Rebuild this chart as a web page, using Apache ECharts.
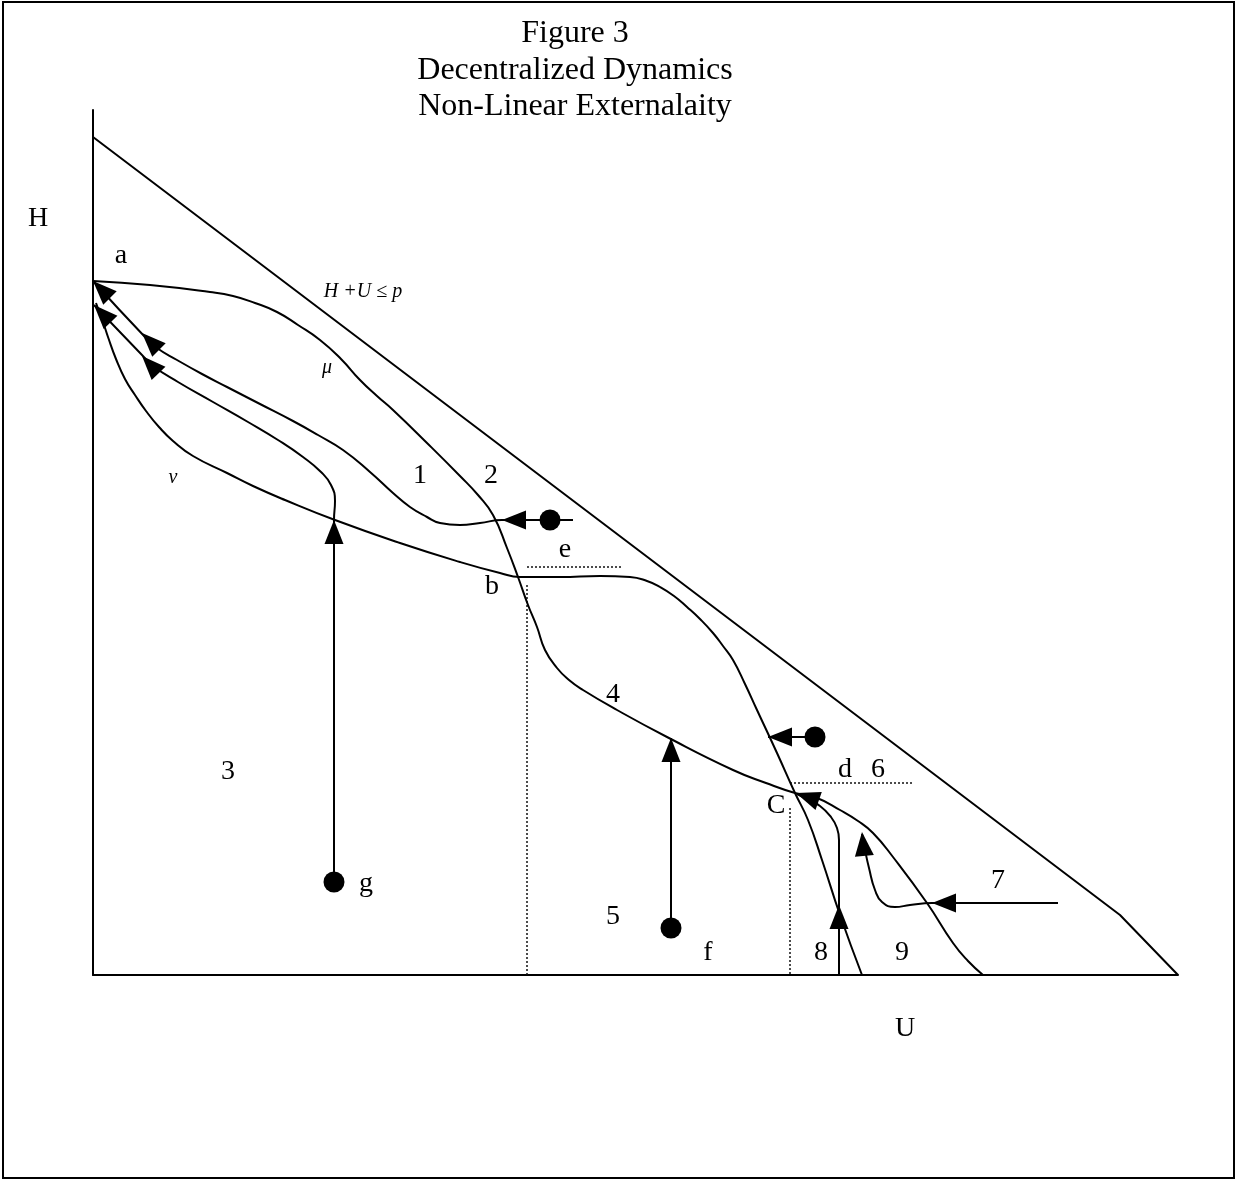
<!DOCTYPE html>
<html>
<head>
<meta charset="utf-8">
<script src="https://cdn.jsdelivr.net/npm/echarts@6/dist/echarts.min.js"></script>
<style>
html,body{margin:0;padding:0;background:#fff;}
#chart{width:1239px;height:1180px;}
</style>
</head>
<body>
<div id="chart"></div>
<script>
// Coordinates are (U, H) in the diagram's own units.

// Budget frontier H + U <= p
const frontier = [[0,83.8],[102.7,6.0],[108.5,0]];

// mu locus: from a, through b and C, down to the U axis
const muCurve = [
  [0,69.4],[5.7,69.0],[11.7,68.3],[14.0,67.9],[16.2,67.2],[18.4,66.3],[20.5,65.0],
  [22.7,63.5],[24.8,61.6],[26.7,59.5],[28.4,57.9],[30.0,56.5],[33.4,53.2],[36.7,49.9],
  [38.5,48.0],[40.0,46.0],[41.4,42.7],[42.5,39.8],[43.5,37.0],[44.4,34.8],[45.2,32.5],
  [46.4,30.7],[47.6,29.5],[49.0,28.5],[52.4,26.5],[57.4,23.8],[64.0,20.5],[67.3,19.2],
  [70.2,18.2],[72.4,17.7],[74.7,16.5],[76.5,15.4],[78.0,14.2],[80.0,11.8],[83.4,7.2],
  [86.0,3.2],[87.5,1.4],[89.0,0]
];

// nu locus
const nuCurve = [
  [0.3,67.2],[1.0,65.3],[1.5,63.8],[2.3,61.6],[3.2,59.6],[4.2,58.0],[5.3,56.4],
  [6.6,54.8],[8.0,53.4],[10.0,51.9],[13.4,50.2],[16.0,48.9],[19.2,47.5],[24.2,45.5],
  [30.7,43.2],[36.7,41.3],[40.7,40.2],[42.7,39.8],[46.7,39.8],[50.7,39.9],[53.7,39.8],
  [55.4,39.4],[56.7,38.8],[58.1,37.9],[59.4,36.8],[60.8,35.5],[62.0,34.2],[63.0,32.9],
  [64.0,31.5],[65.2,29.1],[66.4,26.5],[68.4,22.2],[70.2,18.2],[71.5,15.5],[72.9,11.5],
  [74.7,6.0],[76.9,0]
];

// Adjustment paths
const pathOne = [
  [48.0,45.5],[40.9,45.5],[38.7,45.2],[36.7,45.0],[34.7,45.2],[33.4,45.8],[31.7,46.8],
  [30.0,48.2],[27.7,50.3],[25.0,52.5],[22.5,54.0],[20.0,55.4],[16.7,57.1],[13.4,58.8],
  [10.9,60.1],[8.4,61.5],[6.4,62.7],[5.2,63.8],[0,69.4]
];
const pathG = [
  [24.1,9.3],[24.1,45.5],[24.2,47.4],[23.8,49.0],[22.8,50.3],[21.0,51.8],[18.5,53.5],
  [15.5,55.3],[12.0,57.3],[8.5,59.3],[6.0,60.9],[4.9,62.0],[0.1,67.0]
];
const pathF = [[57.8,4.7],[57.8,23.7]];
const pathD = [[72.2,23.8],[67.5,23.8]];
const pathEight = [
  [74.6,0],[74.6,7.0],[74.6,13.5],[74.4,14.7],[73.8,15.8],[72.7,16.9],[71.4,17.6],[70.4,18.1]
];
const pathSeven = [
  [96.5,7.2],[83.9,7.2],[81.7,7.0],[80.2,6.8],[78.9,7.3],[78.2,8.5],[77.6,10.7],
  [77.2,12.5],[76.9,14.1]
];

// Starting points of the paths
const startDots = [[45.7,45.5],[24.1,9.3],[57.8,4.7],[72.2,23.8]];

// Arrow heads: tip U, tip H, direction dU, direction dH
const arrowTips = [
  [0,69.4,-1,1],[0.1,67.0,-1,1.05],[4.9,64.2,-1,1],[4.9,61.9,-1,1.05],
  [40.9,45.5,-1,0],[24.1,45.5,0,1],[57.8,23.7,0,1],[67.5,23.8,-1,0],
  [70.3,18.2,-1,0.35],[74.6,7.0,0,1],[83.9,7.2,-1,0],[76.9,14.3,-0.1,1]
];

// Dotted guides at the e and d levels and below b and C
const guideLines = [
  [[43.4,40.8],[53.0,40.8]],
  [[43.4,39.0],[43.4,0]],
  [[69.7,19.2],[81.9,19.2]],
  [[69.7,16.7],[69.7,0]]
];

// Region and point labels
const labelNames = ['a','1','2','e','b','4','3','5','f','g','C','d','6','7','8','9'];
const labelU = [2.8,32.7,39.8,47.2,39.9,52.0,13.5,52.0,61.5,27.3,68.3,75.2,78.5,90.5,72.8,80.9];
const labelH = [71.9,49.9,49.9,42.5,38.8,28.0,20.3,5.8,2.2,9.1,16.9,20.5,20.5,9.4,2.2,2.2];
const curveNames = ['\u03bc','\u03bd','H +U \u2264 p'];
const curveNameU = [23.4,8.0,27.0];
const curveNameH = [60.7,49.7,68.3];

const U_MAX = 108.5, H_MAX = 86.5;
const GRID = {left:93, top:110, width:1085, height:865};
const pxPerUnit = GRID.width / U_MAX;
const SERIF = '"Liberation Serif", "Times New Roman", serif';

const lineSeries = (data, smooth) => ({
  type:'line', data, smooth: smooth || false, symbol:'none', showSymbol:false,
  lineStyle:{color:'#000', width:2, opacity:1}, z:3, silent:true
});

const ARROW_LEN = 24, ARROW_W = 19;
const arrowData = arrowTips.map(([u,h,du,dh]) => {
  const n = Math.hypot(du, dh);
  const ux = du / n, uy = dh / n;
  const back = (ARROW_LEN / 2) / pxPerUnit;
  const rot = Math.atan2(-du, dh) * 180 / Math.PI;
  return {value:[u - ux*back, h - uy*back], symbolRotate: rot};
});

const textData = labelNames.map((t,i) => ({name:t, value:[labelU[i], labelH[i]]}));
const italicData = curveNames.map((t,i) => ({name:t, value:[curveNameU[i], curveNameH[i]]}));

const series = [
  lineSeries(frontier, false),
  lineSeries(muCurve, 0.5),
  lineSeries(nuCurve, 0.5),
  lineSeries(pathOne, 0.5),
  lineSeries(pathG, 0.5),
  lineSeries(pathF, false),
  lineSeries(pathD, false),
  lineSeries(pathEight, 0.5),
  lineSeries(pathSeven, 0.5),
  ...guideLines.map(seg => ({
    type:'line', data:seg, symbol:'none', silent:true, z:2,
    lineStyle:{color:'#111', width:1.5, type:[2,2], opacity:1}
  })),
  {
    type:'scatter', data:startDots, symbol:'circle', symbolSize:21,
    itemStyle:{color:'#000', opacity:1}, z:5, silent:true
  },
  {
    type:'scatter', data:arrowData, symbol:'triangle', symbolSize:[ARROW_W, ARROW_LEN],
    itemStyle:{color:'#000', opacity:1}, z:6, silent:true
  },
  {
    type:'scatter', data:textData, symbol:'circle', symbolSize:1,
    itemStyle:{color:'rgba(0,0,0,0)', opacity:1}, z:7, silent:true,
    label:{show:true, position:'inside', formatter:'{b}', color:'#000', opacity:1,
      fontFamily:SERIF, fontSize:28}
  },
  {
    type:'scatter', data:italicData, symbol:'circle', symbolSize:1,
    itemStyle:{color:'rgba(0,0,0,0)', opacity:1}, z:7, silent:true,
    label:{show:true, position:'inside', formatter:'{b}', color:'#000', opacity:1,
      fontFamily:SERIF, fontStyle:'italic', fontSize:20}
  }
];

const hiddenAxis = (max) => ({
  type:'value', min:0, max,
  axisLine:{show:true, onZero:false, lineStyle:{color:'#000', width:2}},
  axisTick:{show:false}, axisLabel:{show:false}, splitLine:{show:false}
});

const chart = echarts.init(document.getElementById('chart'), null, {renderer:'canvas'});
chart.setOption({
  animation:false,
  backgroundColor:'#fff',
  grid:GRID,
  xAxis:hiddenAxis(U_MAX),
  yAxis:hiddenAxis(H_MAX),
  series,
  graphic:[
    {type:'rect', shape:{x:3, y:2, width:1231, height:1176},
      style:{fill:'none', stroke:'#000', lineWidth:2}, silent:true},
    {type:'text', x:575, y:34, style:{text:'Figure 3', font:'32px ' + SERIF,
      textAlign:'center', textVerticalAlign:'middle', fill:'#000'}},
    {type:'text', x:575, y:71, style:{text:'Decentralized Dynamics', font:'32px ' + SERIF,
      textAlign:'center', textVerticalAlign:'middle', fill:'#000'}},
    {type:'text', x:575, y:107, style:{text:'Non-Linear Externalaity', font:'32px ' + SERIF,
      textAlign:'center', textVerticalAlign:'middle', fill:'#000'}},
    {type:'text', x:38, y:219, style:{text:'H', font:'28px ' + SERIF,
      textAlign:'center', textVerticalAlign:'middle', fill:'#000'}},
    {type:'text', x:905, y:1029, style:{text:'U', font:'28px ' + SERIF,
      textAlign:'center', textVerticalAlign:'middle', fill:'#000'}}
  ]
});
</script>
</body>
</html>
